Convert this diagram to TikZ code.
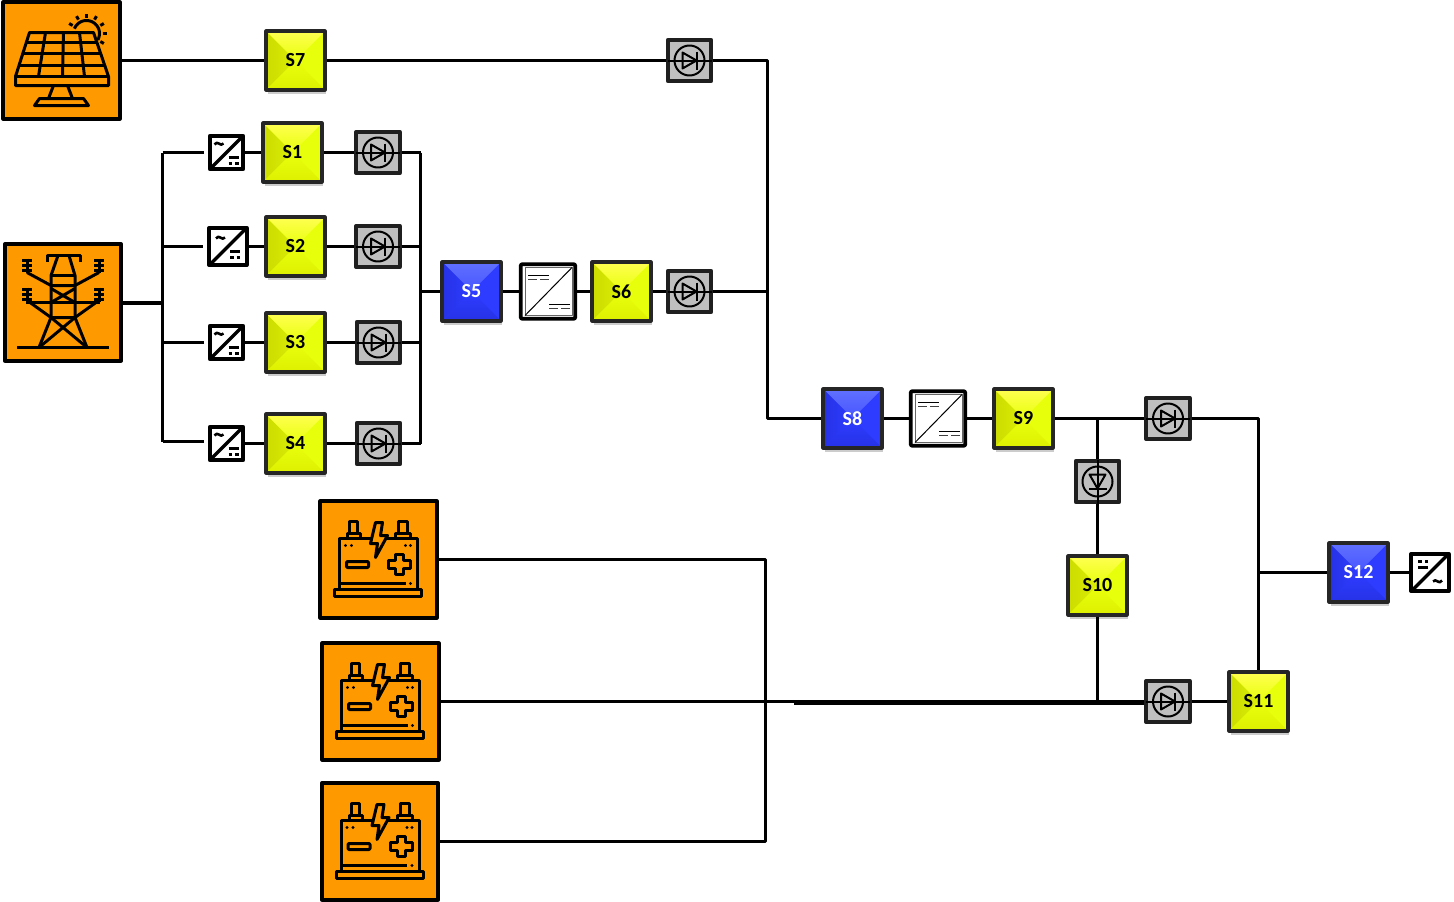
\documentclass[tikz,border=0pt]{standalone}
\usepackage{fontspec}
\setmainfont{Carlito}
\usepackage{tikz}
\usetikzlibrary{shadows}

\begin{document}
\begin{tikzpicture}[x=1pt,y=-1pt,line width=3pt,line join=round]
	\useasboundingbox (-0.5,-0.5) rectangle (1453.5,901.5);

	\definecolor{srcorange}{HTML}{FF9900}
	\definecolor{diodegray}{HTML}{BFBFBF}
	\definecolor{swbase}{HTML}{E8FF0C}
	\definecolor{swlight}{HTML}{FFFF50}
	\definecolor{swdark}{HTML}{CCDC00}
	\definecolor{swlow}{HTML}{DDF000}
	\definecolor{blbase}{HTML}{2E3CFF}
	\definecolor{bllight}{HTML}{6070FF}
	\definecolor{bldark}{HTML}{2632E6}

	\tikzstyle{bevel}=[rectangle,draw=black!85,line width=3.6pt,minimum size=58.5pt,inner sep=0pt,
		font=\fontsize{20}{20}\selectfont\bfseries,
		drop shadow={shadow xshift=1.5pt,shadow yshift=-4pt,opacity=.2,fill=black}]
	\tikzstyle{source}=[rectangle,draw=black,fill=srcorange,line width=3.6pt,minimum size=116.5pt,inner sep=0pt]
	\tikzstyle{diodebox}=[rectangle,draw=black!88,fill=diodegray,line width=3.6pt,minimum width=43.5pt,minimum height=41.5pt,inner sep=0pt]
	\tikzstyle{conv}=[rectangle,draw=black,fill=white,line width=3.6pt,minimum size=33.5pt,inner sep=0pt]
	\tikzstyle{dcbox}=[rectangle,draw=black,fill=white,line width=3.6pt,minimum size=54.5pt,inner sep=0pt,rounded corners=1pt]

	\tikzset{
		swyellow/.style={bevel,fill=swbase,path picture={
			\shade[left color=swdark,right color=swbase] (path picture bounding box.north west) -- (path picture bounding box.center) -- (path picture bounding box.south west) -- cycle;
			\shade[top color=swlight,bottom color=swbase] (path picture bounding box.north west) -- (path picture bounding box.north east) -- (path picture bounding box.center) -- cycle;
			\shade[bottom color=swlow,top color=swbase] (path picture bounding box.south west) -- (path picture bounding box.south east) -- (path picture bounding box.center) -- cycle;
		}},
		swblue/.style={bevel,fill=blbase,text=white,path picture={
			\shade[top color=bllight,bottom color=blbase] (path picture bounding box.north west) -- (path picture bounding box.north east) -- (path picture bounding box.center) -- cycle;
			\shade[left color=bldark,right color=blbase] (path picture bounding box.north west) -- (path picture bounding box.center) -- (path picture bounding box.south west) -- cycle;
			\shade[bottom color=bldark,top color=blbase] (path picture bounding box.south west) -- (path picture bounding box.south east) -- (path picture bounding box.center) -- cycle;
		}},
		diode/.pic={
			\draw[line width=2pt] (0,0) circle (15);
			\draw[line width=2pt] (-22,0) -- (22,0);
			\draw[line width=2pt] (-7,-8) -- (7,0) -- (-7,8) -- cycle;
			\draw[line width=2pt] (7,-9) -- (7,9);
		},
		acdc/.pic={
			\draw[line width=3.5pt] (-17,17) -- (17,-17);
			\draw[line width=2.6pt] (-12,-8) .. controls (-9,-13) and (-6,-5) .. (-3,-9);
			\draw[line width=2.6pt] (2,5) -- (12,5);
			\draw[line width=2.6pt] (2,11) -- (5.5,11) (8.5,11) -- (12,11);
		},
		dcdc/.pic={
			\draw[line width=1pt,black!60] (-23,-24) rectangle (24,24);
			\draw[line width=1pt] (-23,24) -- (24,-24);
			\draw[line width=1.2pt] (-20,-16) -- (1,-16) (1,13) -- (22,13);
			\draw[line width=1.2pt,black!75] (-20,-12) -- (-11,-12) (-8,-12) -- (1,-12) (1,17) -- (10,17) (13,17) -- (22,17);
		},
		solar/.pic={
			\draw (-32,-28) -- (32,-28) -- (47,16) -- (47,25) -- (-46,25) -- (-46,16) -- cycle;
			\draw (-46,16) -- (47,16);
			\foreach \yl/\xl/\xr in {-18/-36/36, -7/-40/39, 5/-43/43}
				\draw (\xl,\yl) -- (\xr,\yl);
			\foreach \xt/\xb in {-16/-23, 2/1, 18/23}
				\draw (\xt,-28) -- (\xb,16);
			\draw (-8,25) -- (-13,38) (6,25) -- (11,38);
			\draw (-22,38) -- (22,38) -- (27,45) -- (-27,45) -- cycle;
			\draw plot[domain=-30:158,samples=24] ({25+13*cos(\x)},{-27-13*sin(\x)});
			\foreach \a in {-30,0,30,60,90,120,150}
				\draw ({25+16*cos(\a)},{-27-16*sin(\a)}) -- ({25+20*cos(\a)},{-27-20*sin(\a)});
		},
		tower/.pic={
			\draw (-16,-41) -- (-16,-47) -- (17,-47) -- (17,-41);
			\draw (-5,-47) -- (-12,-27) -- (-12,15) -- (-24,45);
			\draw (6,-47) -- (12,-27) -- (12,15) -- (24,45);
			\draw (-46,45) -- (46,45);
			\draw (-36,-30) -- (-12,-17) -- (12,-17) -- (36,-30);
			\draw (-12,-27) -- (12,-27);
			\draw (-37,0) -- (37,0);
			\draw (-33,0) -- (-12,15) -- (12,15) -- (33,0);
			\draw (-12,-14) -- (12,0) (12,-14) -- (-12,0);
			\draw (-12,15) -- (24,45) (12,15) -- (-24,45);
			\foreach \xi in {-36,36} {
				\draw (\xi,-44) -- (\xi,-30) (\xi,-15) -- (\xi,-1);
				\foreach \yi in {-42,-37,-32,-13,-8,-3}
					\draw (\xi-5,\yi) -- (\xi+5,\yi);
			}
		},
		battery/.pic={
			\draw (-44,30) rectangle (43,37);
			\draw (-39,30) -- (-39,-21) -- (39,-21) -- (39,30);
			\draw (-31,-21) -- (-31,-26) -- (-18,-26) -- (-18,-21);
			\draw (-29,-26) -- (-29,-38) -- (-21,-38) -- (-21,-26);
			\draw (17,-21) -- (17,-26) -- (32,-26) -- (32,-21);
			\draw (20,-26) -- (20,-38) -- (29,-38) -- (29,-26);
			\draw[fill=srcorange] (-3,-37) -- (-8,-16) -- (-1,-16) -- (-3,-2) -- (9,-24) -- (2,-24) -- (4,-37) -- cycle;
			\draw[rounded corners=1pt] (-32,2) rectangle (-10,8);
			\draw (17,-5) -- (25,-5) -- (25,1) -- (32,1) -- (32,9) -- (25,9) -- (25,15) -- (17,15) -- (17,9) -- (10,9) -- (10,1) -- (17,1) -- cycle;
			\draw[line width=2.4pt] (-38,24) -- (27,24);
			\foreach \dotx/\doty in {-33/-14, -27/-14, 27/-14, 32/-14, 32/24}
				\fill (\dotx,\doty) circle (1.7);
		}
	}

	%Sources
	\node[source] (PV) at (61,60) {};
	\node[source] (Grid) at (62.5,302) {};
	\foreach \name/\x/\y in {1/378/559, 2/380/701, 3/379.5/841}
	\node[source] (Bat-\name) at (\x,\y) {};

	%Yellow switches
	\foreach \name/\x/\y in {7/295/60, 1/292/152, 2/295/246, 3/295/342, 4/295/443, 6/621/291, 9/1023/418, 10/1097/585, 11/1258/701}
	\node[swyellow] (S\name) at (\x,\y) {S\name};

	%Blue switches
	\foreach \name/\x/\y in {5/471/291, 8/852/418, 12/1358/572}
	\node[swblue] (S\name) at (\x,\y) {S\name};

	%Diodes
	\foreach \name/\x/\y in {7/689/60, 1/377.5/152, 2/377.5/246, 3/378/342, 4/378/443, 6/689/291, 9/1167.5/418, 11/1167.5/701}
	\node[diodebox] (D\name) at (\x,\y) {};
	\node[diodebox] (D10) at (1097,481) {};

	%Converters
	\foreach \name/\x/\y in {1/226/152, 3/226/342, 4/226/443}
	\node[conv] (C\name) at (\x,\y) {};
	\node[conv,minimum size=37.5pt] (C2) at (227.5,246) {};
	\node[conv,minimum size=37.5pt] (C5) at (1429.5,572) {};
	\node[dcbox] (DC1) at (547.5,291) {};
	\node[dcbox] (DC2) at (937.5,418) {};

	%Free ends of the links
	\coordinate (BusL-1) at (162,152);
	\coordinate (BusL-2) at (162,246);
	\coordinate (BusL-3) at (162,342);
	\coordinate (BusL-4) at (162,441);
	\coordinate (BusL-G) at (162,302);
	\coordinate (BusR-1) at (420,152);
	\coordinate (BusR-2) at (420,246);
	\coordinate (BusR-3) at (420,342);
	\coordinate (BusR-4) at (420,443);
	\coordinate (BusR-5) at (420,291);
	\coordinate (Top-1) at (767,60);
	\coordinate (Top-2) at (767,291);
	\coordinate (Top-3) at (767,418);
	\coordinate (Out-1) at (1097,418);
	\coordinate (Out-2) at (1258,418);
	\coordinate (Out-3) at (1258,572);
	\coordinate (Low-1) at (1097,701);
	\coordinate (Low-2) at (793,702);
	\coordinate (Bat-T) at (765,559);
	\coordinate (Bat-M) at (765,701);
	\coordinate (Bat-B) at (765,841);

	%Links
	\draw (PV) -- (S7);
	\draw (S7) -- (D7);
	\draw (D7) -- (Top-1) -- (Top-3) -- (S8);
	\draw[line width=4pt] (Grid) -- (BusL-G);
	\draw (BusL-1) -- (BusL-4);
	\foreach \from/\to in {1/1, 2/2, 3/3}
	\draw[shorten >=4pt] (BusL-\from) -- (C\to);
	\draw[shorten >=4pt] (BusL-4) -- (C4.west |- BusL-4);
	\foreach \x in {1,2,3,4} {
		\draw (C\x) -- (S\x);
		\draw (S\x) -- (D\x);
		\draw (D\x) -- (BusR-\x);
	}
	\draw (BusR-1) -- (BusR-4);
	\draw (BusR-5) -- (S5);
	\draw (S5) -- (DC1);
	\draw (DC1) -- (S6);
	\draw (S6) -- (D6);
	\draw (D6) -- (Top-2);
	\draw (S8) -- (DC2);
	\draw (DC2) -- (S9);
	\draw (S9) -- (D9);
	\draw (D9) -- (Out-2) -- (S11);
	\draw (Out-1) -- (D10);
	\draw (D10) -- (S10);
	\draw (S10) -- (Low-1);
	\draw (Out-3) -- (S12);
	\draw (S12) -- (C5);
	\draw (D11) -- (S11);
	\draw (Bat-2) -- (D11);
	\draw[line width=4pt] (Low-2) -- (D11.west |- Low-2);
	\draw (Bat-1) -- (Bat-T) -- (Bat-M);
	\draw (Bat-3) -- (Bat-B) -- (Bat-M);

	%Icons
	\pic at (PV) {solar};
	\pic at (Grid) {tower};
	\foreach \name in {1,2,3}
	\pic at (Bat-\name) {battery};
	\foreach \name in {7,1,2,3,4,6,9,11}
	\pic at (D\name) {diode};
	\pic[rotate=-90] at (D10) {diode};
	\foreach \name in {1,2,3,4}
	\pic at (C\name) {acdc};
	\pic[rotate=180] at (C5) {acdc};
	\pic at (DC1) {dcdc};
	\pic at (DC2) {dcdc};
\end{tikzpicture}
\end{document}
